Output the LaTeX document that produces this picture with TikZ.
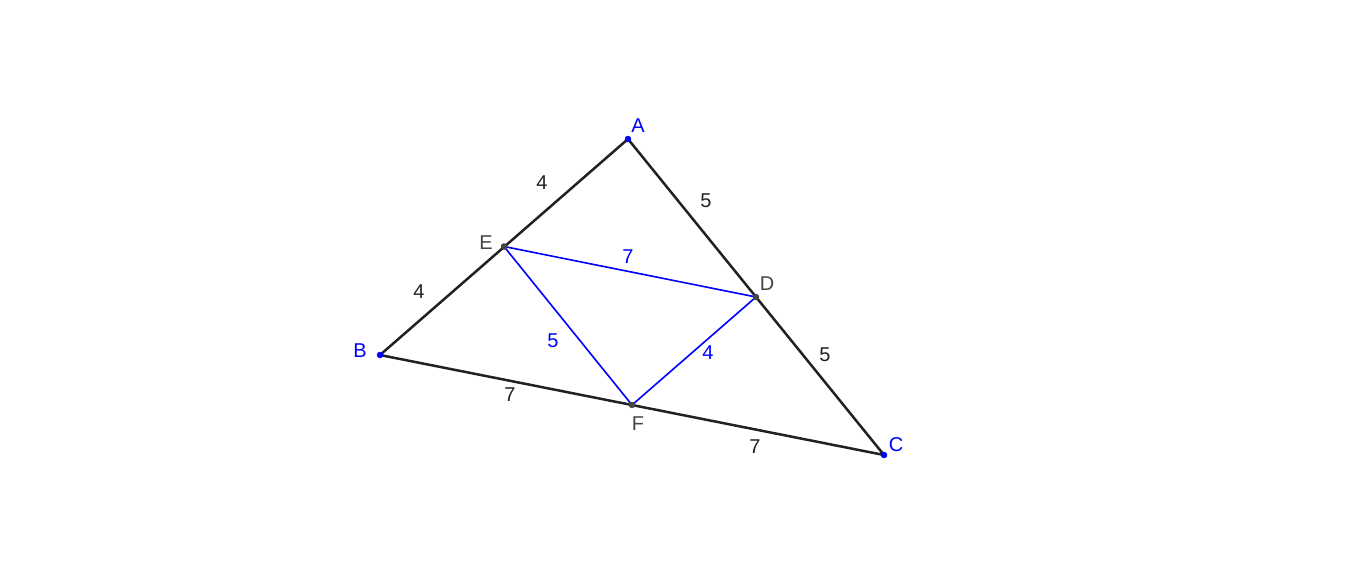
\documentclass[tikz,border=0pt]{standalone}
\usepackage{fontspec}
\setmainfont{Liberation Sans}
\begin{document}
\begin{tikzpicture}[x=1pt,y=-1pt,
  pt/.style={circle,inner sep=0pt,minimum size=6pt,draw=#1,fill=#1},
  lbl/.style={font=\fontsize{20}{20}\selectfont,inner sep=0pt},
  side/.style={draw=black!87,line width=2.5pt},
  inner/.style={draw=blue,line width=1.6pt}]
\useasboundingbox (0,0) rectangle (1366,560);
\definecolor{ptblue}{RGB}{0,0,255}
\definecolor{ptgray}{RGB}{68,68,68}
\coordinate (A) at (628,139);
\coordinate (B) at (380,355);
\coordinate (C) at (884,455);
\coordinate (E) at (504,246.5);
\coordinate (D) at (756,297);
\coordinate (F) at (632,405);
\draw[side] (A) -- (B) -- (C) -- cycle;
\draw[inner] (E) -- (D);
\draw[inner] (E) -- (F) -- (D);
\node[pt=ptblue] (pA) at (A) {};
\node[pt=ptblue] (pB) at (B) {};
\node[pt=ptblue] (pC) at (C) {};
\node[pt=ptgray] (pE) at (E) {};
\node[pt=ptgray] (pD) at (D) {};
\node[pt=ptgray] (pF) at (F) {};
\node[lbl,text=blue] (lA) at (638,126) {A};
\node[lbl,text=blue] (lB) at (360,351) {B};
\node[lbl,text=blue] (lC) at (896,445) {C};
\node[lbl,text=ptgray] (lE) at (486,243) {E};
\node[lbl,text=ptgray] (lD) at (767,284) {D};
\node[lbl,text=ptgray] (lF) at (638,424) {F};
\node[lbl,text=black!87] (n1) at (542,183) {4};
\node[lbl,text=black!87] (n2) at (706,201) {5};
\node[lbl,text=blue] (n3) at (628,257) {7};
\node[lbl,text=black!87] (n4) at (419,292) {4};
\node[lbl,text=blue] (n5) at (553,341) {5};
\node[lbl,text=blue] (n6) at (708,353) {4};
\node[lbl,text=black!87] (n7) at (825,355) {5};
\node[lbl,text=black!87] (n8) at (510,395) {7};
\node[lbl,text=black!87] (n9) at (755,447) {7};
\end{tikzpicture}
\end{document}
